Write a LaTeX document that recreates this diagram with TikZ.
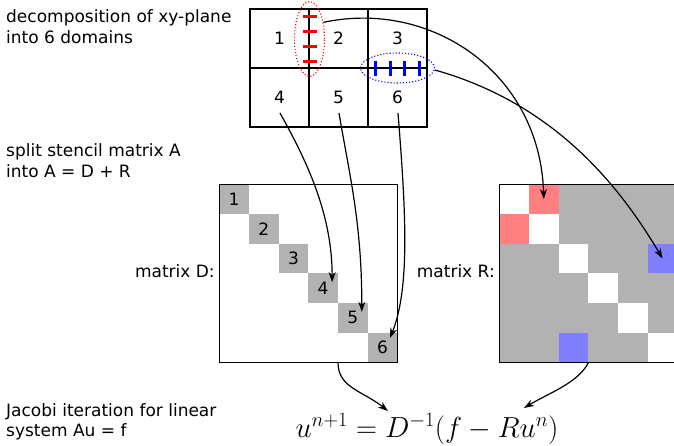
\RequirePackage{fix-cm}
\documentclass[tikz,border=0pt]{standalone}
\usepackage[no-math]{fontspec}
\setmainfont{DejaVu Sans}
\usetikzlibrary{
  shapes.geometric,
  arrows.meta,
  positioning, calc
}
\tikzset{
  txt/.style={font=\fontsize{17}{20.5}\selectfont,inner sep=0pt},
  notenode/.style={txt,align=left,anchor=north west},
  gridcell/.style={draw,line width=1.2pt,minimum size=59pt,inner sep=0pt,txt},
  matbox/.style={draw,line width=0.8pt,minimum size=178pt,inner sep=0pt},
  dcell/.style={fill=gray!60,minimum size=29.67pt,inner sep=0pt,txt},
  rcell/.style={minimum size=29.67pt,inner sep=0pt},
  cutnode/.style={ellipse,dotted,line width=1.1pt,inner sep=0pt},
  arr/.style={-{Stealth[length=10pt,width=7pt,inset=3pt]},line width=1.2pt}
}

\begin{document}
\begin{tikzpicture}[x=1pt,y=-1pt]

  \useasboundingbox (0,0) rectangle (674,445);

  % Notes on the left
  \node[notenode] (decomp) at (6,9.5) {decomposition of xy-plane\\into 6 domains};
  \node[notenode] (split) at (6,143.5) {split stencil matrix A\\into A = D + R};
  \node[notenode] (jacobi) at (6,403) {Jacobi iteration for linear\\system Au = f};

  % xy-plane with 6 domains
  \node[gridcell] (c1) at (279.5,38.5) {1};
  \node[gridcell] (c2) at (338.5,38.5) {2};
  \node[gridcell] (c3) at (397.5,38.5) {3};
  \node[gridcell] (c4) at (279.5,97.5) {4};
  \node[gridcell] (c5) at (338.5,97.5) {5};
  \node[gridcell] (c6) at (397.5,97.5) {6};

  % Cut between 1 and 2
  \foreach \y in {16,31,46,61}
    \draw[red,line width=3pt] (302.5,\y) -- (316.5,\y);
  \node[cutnode,draw=red,minimum width=30pt,minimum height=75pt] (redcut) at (309.5,39) {};

  % Cut between 3 and 6
  \foreach \x in {375.5,390,404.5,419.5}
    \draw[blue,line width=3pt] (\x,61) -- (\x,76);
  \node[cutnode,draw=blue,minimum width=74pt,minimum height=30pt] (bluecut) at (397.5,68) {};

  % Matrix D
  \foreach \i in {1,...,6}
    \node[dcell] (d\i) at ({219.3+(\i-0.5)*29.67},{184.3+(\i-0.5)*29.67}) {\i};
  \node[matbox] (matD) at (308.3,273.3) {};
  \node[txt,left=4pt of matD,yshift=2pt] (labD) {matrix D:};

  % Matrix R
  \fill[gray!60] (499.3,184.3) rectangle +(178,178);
  \foreach \i in {1,...,6}
    \node[rcell,fill=white] (rw\i) at ({499.3+(\i-0.5)*29.67},{184.3+(\i-0.5)*29.67}) {};
  \node[rcell,fill=red!50] (r12) at ({499.3+1.5*29.67},{184.3+0.5*29.67}) {};
  \node[rcell,fill=red!50] (r21) at ({499.3+0.5*29.67},{184.3+1.5*29.67}) {};
  \node[rcell,fill=blue!50] (r36) at ({499.3+5.5*29.67},{184.3+2.5*29.67}) {};
  \node[rcell,fill=blue!50] (r63) at ({499.3+2.5*29.67},{184.3+5.5*29.67}) {};
  \node[matbox] (matR) at (588.3,273.3) {};
  \node[txt,left=4pt of matR,yshift=2pt] (labR) {matrix R:};

  % Jacobi step
  \node[inner sep=0pt,anchor=base,font=\fontsize{29}{34}\selectfont] (jac) at (427,437)
    {$u^{n+1} = D^{-1}(f - Ru^n)$};

  % Domains to blocks
  \draw[arr] (redcut.50) .. controls +(107,-23) and +(-4,-127) .. (r12.center);
  \draw[arr] (bluecut.-3) .. controls +(110,31) and +(-50,-85) .. (r36.center);
  \draw[arr] ($(c4)+(0.5,15.5)$) .. controls +(25,45) and +(0,-70) .. ($(d4)+(9,-6)$);
  \draw[arr] ($(c5)+(0.5,15.5)$) .. controls +(10,60) and +(0,-90) .. ($(d5)+(9,-6)$);
  \draw[arr] ($(c6)+(0.5,15.5)$) .. controls +(8,100) and +(20,-50) .. ($(d6)+(7.5,-9.5)$);

  % Matrices to iteration
  \draw[arr] ($(matD.south)+(29.7,0)$) .. controls +(0,25) and +(-25,-20) .. ($(jac.base)+(-39,-26)$);
  \draw[arr] (matR.south) .. controls +(-10,20) and +(25,-15) .. ($(jac.base)+(97,-29)$);

\end{tikzpicture}
\end{document}
